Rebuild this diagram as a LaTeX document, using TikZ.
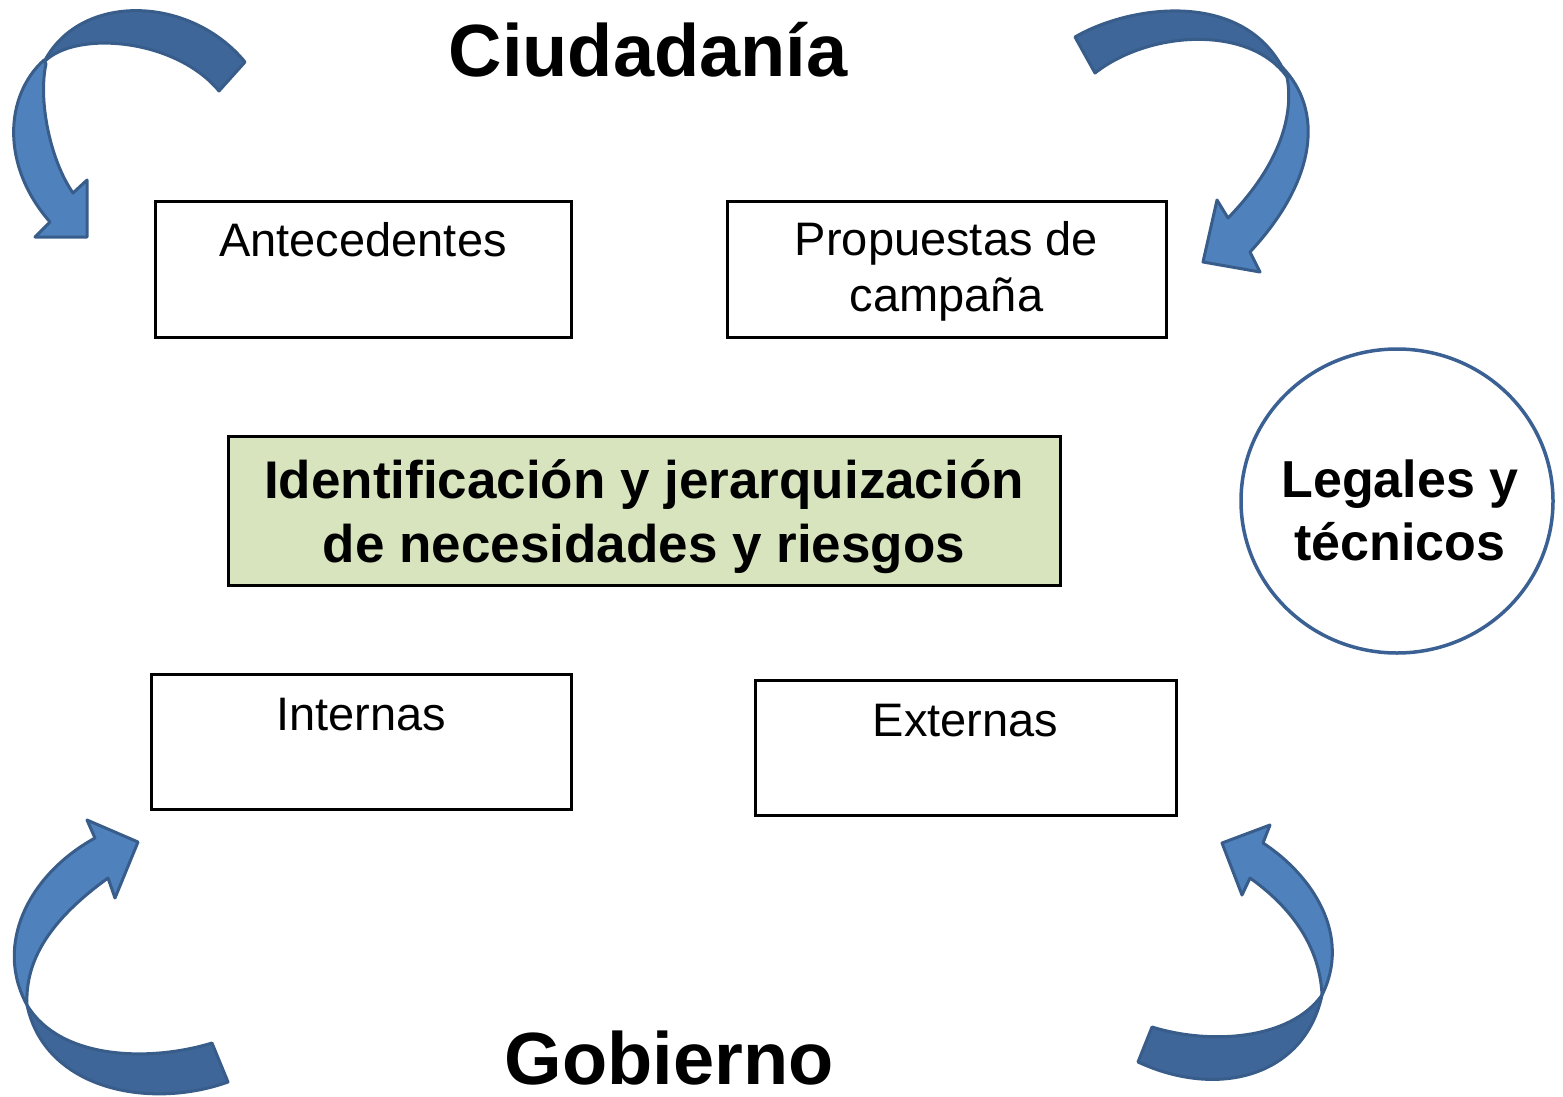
\documentclass[tikz,border=0pt]{standalone}
\usepackage{fontspec}
\setmainfont{Liberation Sans}
\usetikzlibrary{shapes.geometric}
\definecolor{arrlight}{HTML}{4F81BD}
\definecolor{arrdark}{HTML}{3F6698}
\definecolor{arrline}{HTML}{385D8A}
\definecolor{greenfill}{HTML}{D7E4BD}
\definecolor{circline}{HTML}{3B6094}
\tikzset{
  box/.style={draw=black, line width=3pt, rectangle, inner sep=0pt},
  boxtxt/.style={anchor=base, font=\fontsize{47}{56}\selectfont, inner sep=0pt, align=center},
  bigtitle/.style={anchor=base, font=\fontsize{74}{80}\selectfont\bfseries, inner sep=0pt},
  lightpart/.style={fill=arrlight, draw=arrline, line width=3pt, line join=round},
  darkpart/.style={fill=arrdark, draw=arrline, line width=3pt, line join=round},
}
\begin{document}
\begin{tikzpicture}[x=1pt,y=-1pt]
\useasboundingbox (0,0) rectangle (1563,1097);

% titles
\node[bigtitle] (ciu) at (648,77) {Ciudadanía};
\node[bigtitle] (gob) at (669,1084) {Gobierno};

% boxes
\node[box, minimum width=416, minimum height=136] (ant) at (363,269) {};
\node[boxtxt] (antt) at ([yshift=-57pt]ant.north) {Antecedentes};
\node[box, minimum width=439, minimum height=136] (pro) at (946.5,269) {};
\node[boxtxt] (prot) at ([yshift=-112pt]pro.north) {Propuestas de\\campaña};
\node[box, minimum width=420, minimum height=135] (int) at (361,741.5) {};
\node[boxtxt] (intt) at ([yshift=-58pt]int.north) {Internas};
\node[box, minimum width=421, minimum height=135] (ext) at (965.5,747.5) {};
\node[boxtxt] (extt) at ([yshift=-58pt]ext.north) {Externas};

% central box
\node[box, fill=greenfill, minimum width=832, minimum height=149] (cen) at (644,510.5) {};
\node[anchor=base, inner sep=0pt, font=\fontsize{53}{64}\selectfont\bfseries, align=center]
  (cent) at (644,562) {Identificación y jerarquización\\de necesidades y riesgos};

% circle
\node[ellipse, draw=circline, line width=3.5pt, minimum width=312, minimum height=304,
      inner sep=0pt] (leg) at (1397,501) {};
\node[anchor=base, inner sep=0pt, font=\fontsize{52}{63}\selectfont\bfseries, align=center]
  (legt) at (1400,560) {Legales y\\técnicos};

% top-left curved arrow
\path[darkpart] (245,62) .. controls (190,-5) and (80,-8) .. (44,62)
   .. controls (75,30) and (175,38) .. (219,91) -- cycle;
\path[lightpart] (44,60) .. controls (5,95) and (0,165) .. (50,222)
   -- (35,237) -- (87,237) -- (87,180) -- (73,193)
   .. controls (50,160) and (38,100) .. (46,64) -- cycle;

% top-right curved arrow
\path[darkpart] (1075,37) .. controls (1130,5) and (1240,-10) .. (1282,67)
   -- (1287,77) .. controls (1250,25) and (1150,30) .. (1095,73) -- cycle;
\path[lightpart] (1282,67) .. controls (1324,110) and (1317,180) .. (1250,252)
   -- (1260,272) -- (1203,262) -- (1217,200) -- (1228,218)
   .. controls (1275,170) and (1295,120) .. (1287,77) -- cycle;

% bottom-left curved arrow
\path[darkpart] (27,1005) .. controls (45,1090) and (150,1110) .. (228,1082)
   -- (212,1043) .. controls (150,1062) and (60,1060) .. (27,1005) -- cycle;
\path[lightpart] (95,838) .. controls (28,875) and (-6,945) .. (27,1005)
   .. controls (25,960) and (50,920) .. (108,878)
   -- (115,898) -- (138,842) -- (87,820) -- cycle;

% bottom-right curved arrow
\path[darkpart] (1322,995) .. controls (1305,1075) and (1220,1100) .. (1138,1062)
   -- (1152,1027) .. controls (1210,1045) and (1290,1040) .. (1322,995) -- cycle;
\path[lightpart] (1263,843) .. controls (1312,875) and (1352,935) .. (1322,995)
   .. controls (1320,950) and (1295,910) .. (1250,878)
   -- (1242,895) -- (1222,843) -- (1270,825) -- cycle;
\end{tikzpicture}
\end{document}
